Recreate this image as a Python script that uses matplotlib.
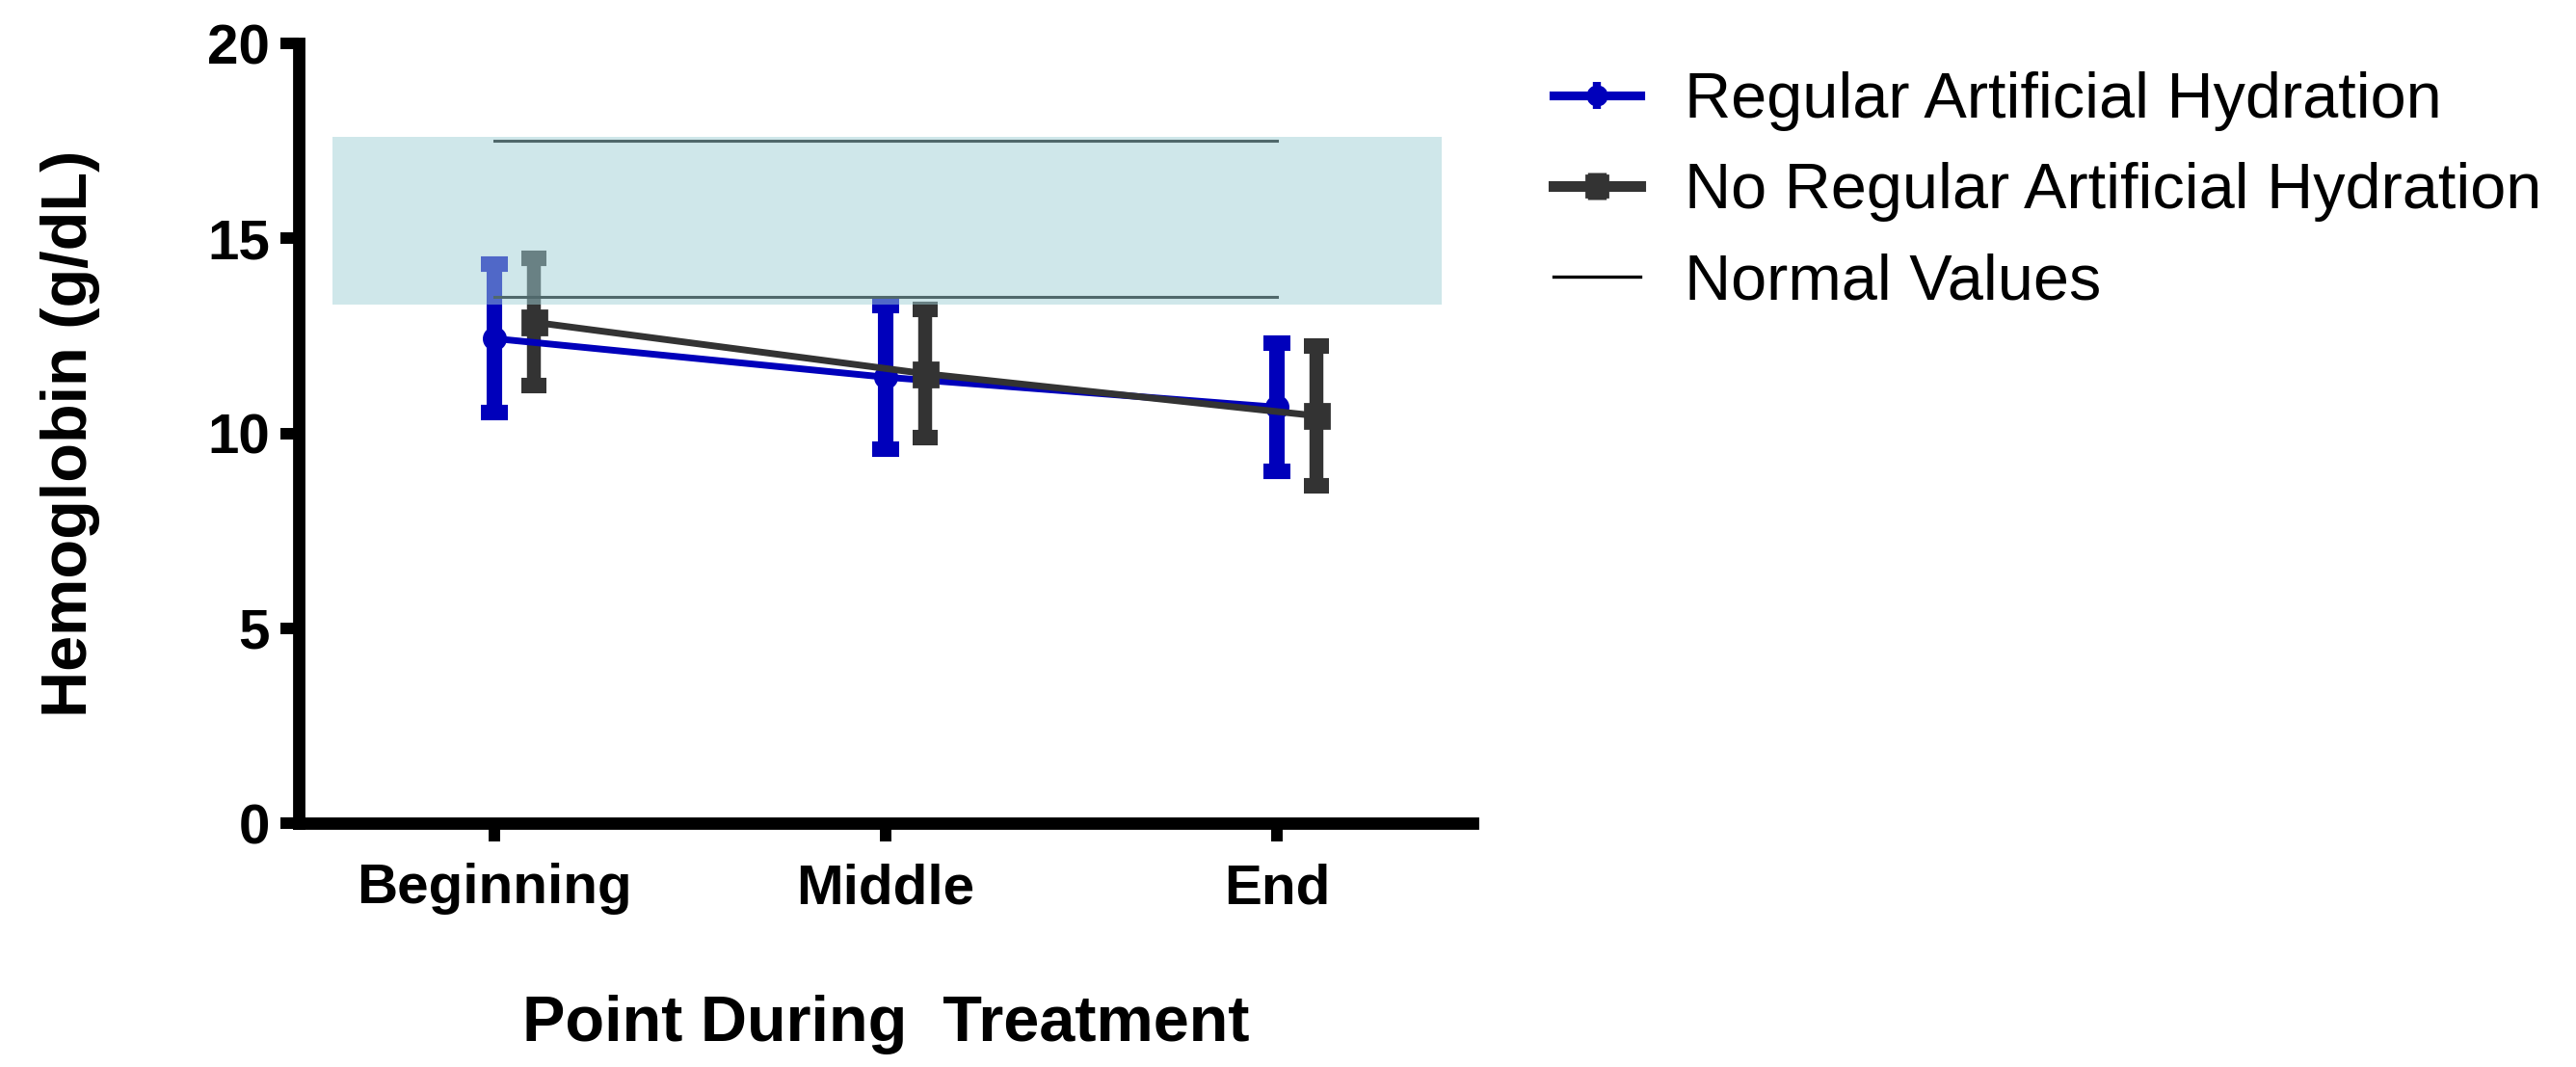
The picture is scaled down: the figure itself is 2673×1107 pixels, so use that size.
import numpy as np
import matplotlib
matplotlib.use('Agg')
from matplotlib import pyplot as plt
from matplotlib.lines import Line2D
from matplotlib.legend_handler import HandlerTuple

plt.rcParams['font.family'] = ['Liberation Sans', 'DejaVu Sans']

# data
points = ['Beginning', 'Middle', 'End']
reg_mean = [12.43, 11.44, 10.67]
reg_sd = [1.90, 1.84, 1.65]
noreg_mean = [12.85, 11.53, 10.45]
noreg_sd = [1.63, 1.64, 1.79]
normal_low = 13.5
normal_high = 17.5
band_low = 13.3
band_high = 17.6

x = np.arange(len(points))
shift = 0.1

fig = plt.figure(figsize=(13.365, 5.535), dpi=200)
ax = fig.add_axes([0.116, 0.2285, 0.4557, 0.7308])

blue = '#0000BB'
grey = '#333333'

ax.errorbar(x, reg_mean, yerr=reg_sd, color=blue, lw=2.5, marker='o', ms=8,
            elinewidth=5.8, capsize=5, capthick=5.8, zorder=2)
ax.errorbar(x + shift, noreg_mean, yerr=noreg_sd, color=grey, lw=2.5, marker='s', ms=9,
            elinewidth=5.2, capsize=4.7, capthick=5.8, zorder=2)

ax.plot([x[0], x[-1]], [normal_high, normal_high], color='black', lw=1.1, zorder=2)
ax.plot([x[0], x[-1]], [normal_low, normal_low], color='black', lw=1.1, zorder=2)

# shaded normal range on top of everything
ax.fill_between([-0.415, 2.42], band_low, band_high, color='#A0D0D6', alpha=0.5,
                lw=0, zorder=3)

ax.set_xlim(-0.5, 2.5)
ax.set_ylim(0, 20)
ax.set_yticks([0, 5, 10, 15, 20])
ax.set_xticks(x)
ax.set_xticklabels(points)

for s in ['top', 'right']:
    ax.spines[s].set_visible(False)
for s in ['left', 'bottom']:
    ax.spines[s].set_linewidth(4.6)
ax.tick_params(width=4.3, length=6.8, labelsize=21, pad=4)
for lab in ax.get_xticklabels() + ax.get_yticklabels():
    lab.set_fontweight('bold')
ax.tick_params(axis='x', pad=8)

ax.set_ylabel('Hemoglobin (g/dL)', fontsize=24, fontweight='bold', labelpad=40)
ax.set_xlabel('Point During  Treatment', fontsize=24, fontweight='bold', labelpad=30)

# legend handles: line + marker + short vertical bar (no caps)
h1 = (Line2D([], [], color=blue, lw=3.3, marker='o', ms=7),
      Line2D([], [], color=blue, ls='none', marker='|', ms=10, mew=3))
h2 = (Line2D([], [], color=grey, lw=4, marker='s', ms=8),
      Line2D([], [], color=grey, ls='none', marker='|', ms=10, mew=7))
h3 = Line2D([], [], color='black', lw=1.2)

fig.legend(handles=[h1, h2, h3],
           labels=['Regular Artificial Hydration', 'No Regular Artificial Hydration', 'Normal Values'],
           handler_map={tuple: HandlerTuple(ndivide=1)},
           loc='upper left', bbox_to_anchor=(0.603, 0.933),
           frameon=False, fontsize=24, handlelength=1.35, handletextpad=0.7,
           labelspacing=0.48, borderpad=0, borderaxespad=0)

fig.savefig('out.png', dpi=200)
